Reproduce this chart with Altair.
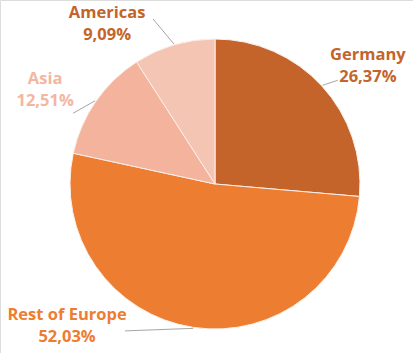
import math
import altair as alt
import pandas as pd

# ---- data ----
regions = ["Germany", "Rest of Europe", "Asia", "Americas"]
shares = [26.37, 52.03, 12.51, 9.09]

# ---- styles / layout ----
slice_colors = ["#C4642A", "#ED7D31", "#F3B39D", "#F5C5B4"]
label_colors = ["#C4642A", "#ED7D31", "#F3B6A1", "#C4642A"]
# label anchor, polar (degrees clockwise from 12 o'clock, pixels from centre)
label_angle = [52.4, 226.2, 298.9, 326.0]
label_dist = [193, 205, 194, 193]
# leader line end, relative to the label anchor
leader_dx = [-30, 58, 28, 46]
leader_dy = [14, 5, 23, -5]

W, H = 413, 353
CX, CY, R = 215, 184, 145

rows = []
lines = []
cum = 0.0
total = sum(shares)
for i, (name, v) in enumerate(zip(regions, shares)):
    mid = (cum + v / 2) / total * 2 * math.pi
    cum += v
    la = math.radians(label_angle[i])
    lx = CX + label_dist[i] * math.sin(la)
    ly = CY - label_dist[i] * math.cos(la)
    rows.append({
        "region": name, "share": v, "order": i,
        "pct": f"{v:.2f}".replace(".", ",") + "%",
        "lx": lx, "ly": ly, "tcolor": label_colors[i],
    })
    sx = CX + (R + 1) * math.sin(mid)
    sy = CY - (R + 1) * math.cos(mid)
    lines.append({"region": name, "k": 0, "x": sx, "y": sy})
    lines.append({"region": name, "k": 1, "x": lx + leader_dx[i], "y": ly + leader_dy[i]})

df = pd.DataFrame(rows)
ldf = pd.DataFrame(lines)

xs = alt.Scale(domain=[0, W], nice=False, zero=False)
ys = alt.Scale(domain=[H, 0], nice=False, zero=False)

pie = alt.Chart(df).mark_arc(outerRadius=R, stroke="#FBEFEA", strokeWidth=1).encode(
    theta=alt.Theta("share:Q", stack=True),
    order=alt.Order("order:Q"),
    color=alt.Color("region:N", scale=alt.Scale(domain=regions, range=slice_colors), legend=None),
    x=alt.value(CX),
    y=alt.value(CY),
)

leaders = alt.Chart(ldf).mark_line(color="#A6A6A6", strokeWidth=1).encode(
    x=alt.X("x:Q", scale=xs, axis=None),
    y=alt.Y("y:Q", scale=ys, axis=None),
    detail="region:N",
    order="k:Q",
)

font = "Open Sans"
name_text = alt.Chart(df).mark_text(font=font, fontWeight="bold", fontSize=16.5, dy=-11, baseline="middle").encode(
    x=alt.X("lx:Q", scale=xs, axis=None),
    y=alt.Y("ly:Q", scale=ys, axis=None),
    text="region:N",
    color=alt.Color("tcolor:N", scale=None),
)
pct_text = alt.Chart(df).mark_text(font=font, fontWeight="bold", fontSize=16.5, dy=11, baseline="middle").encode(
    x=alt.X("lx:Q", scale=xs, axis=None),
    y=alt.Y("ly:Q", scale=ys, axis=None),
    text="pct:N",
    color=alt.Color("tcolor:N", scale=None),
)

chart = alt.layer(pie, leaders, name_text, pct_text).properties(
    width=W, height=H, padding=0, autosize=alt.AutoSizeParams(type="none"),
).configure_view(stroke=None).configure(background="white")

chart.save("out.html", embed_options={"renderer": "svg", "actions": False})
